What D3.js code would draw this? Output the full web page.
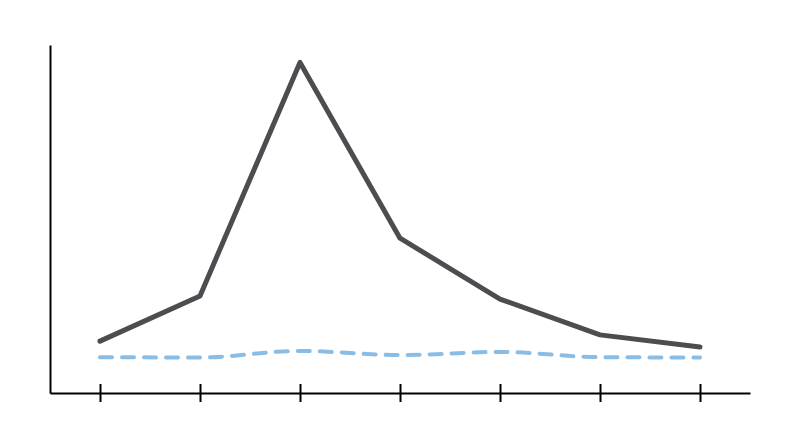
<!DOCTYPE html>
<html>
<head>
<meta charset="utf-8">
<script src="https://cdn.jsdelivr.net/npm/d3@7"></script>
<style>
html,body{margin:0;padding:0;background:#fff;}
svg{display:block;}
</style>
</head>
<body>
<svg id="chart" width="800" height="447"></svg>
<script>
const categories = ["1","2","3","4","5","6","7"];
const seriesMain = [14.9, 27.9, 95.0, 44.5, 27.0, 16.7, 13.2];
const seriesBaseline = [10.3, 10.2, 12.1, 10.9, 11.8, 10.3, 10.2];

const svg = d3.select("#chart");
const x = d3.scalePoint().domain(categories).range([50, 750]).padding(0.5);
const y = d3.scaleLinear().domain([0, 100]).range([393, 45]);

// x axis
const gx = svg.append("g").attr("transform", "translate(0,393)")
  .call(d3.axisBottom(x).tickSizeInner(9).tickSizeOuter(0).tickFormat(""));
gx.select(".domain").attr("stroke", "#000").attr("stroke-width", 2);
gx.selectAll(".tick line").attr("y1", -9).attr("y2", 9).attr("stroke", "#000").attr("stroke-width", 2);

// y axis
const gy = svg.append("g").attr("transform", "translate(50,0)")
  .call(d3.axisLeft(y).ticks(0).tickSizeOuter(0).tickFormat(""));
gy.select(".domain").attr("stroke", "#000").attr("stroke-width", 2);

const lineMain = d3.line().x((d, i) => x(categories[i])).y(d => y(d));
const lineBase = d3.line().x((d, i) => x(categories[i])).y(d => y(d)).curve(d3.curveMonotoneX);

svg.append("path").datum(seriesBaseline)
  .attr("d", lineBase)
  .attr("fill", "none")
  .attr("stroke", "#89bde6")
  .attr("stroke-width", 4)
  .attr("stroke-linecap", "round")
  .attr("stroke-dasharray", "12,10");

svg.append("path").datum(seriesMain)
  .attr("d", lineMain)
  .attr("fill", "none")
  .attr("stroke", "#4b4d50")
  .attr("stroke-width", 5)
  .attr("stroke-linejoin", "round")
  .attr("stroke-linecap", "round");
</script>
</body>
</html>
